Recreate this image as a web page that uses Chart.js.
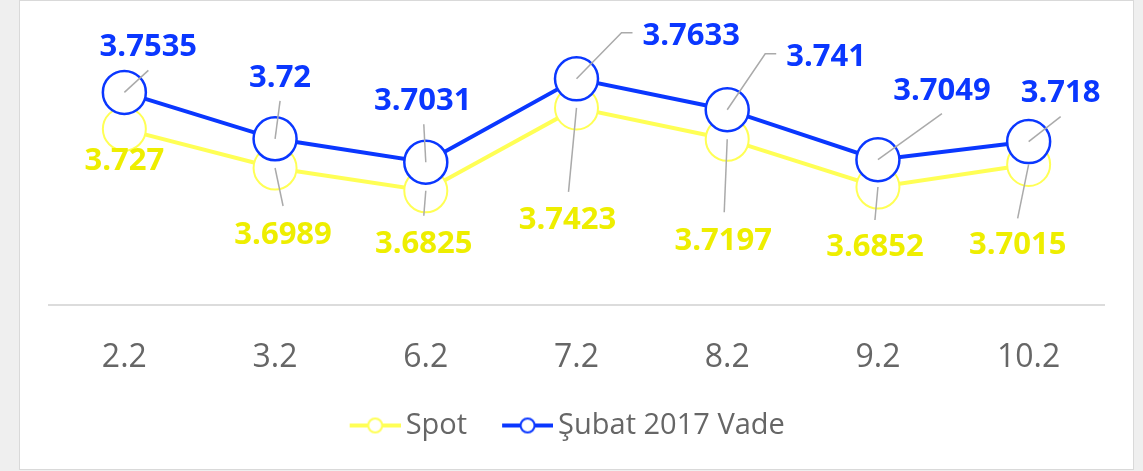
<!DOCTYPE html>
<html>
<head>
<meta charset="utf-8">
<script src="https://cdn.jsdelivr.net/npm/chart.js@4/dist/chart.umd.min.js"></script>
<style>
  html, body { margin: 0; padding: 0; background: #efefef; }
  body { width: 1143px; height: 471px; position: relative; overflow: hidden; }
  .card { position: absolute; left: 19px; top: 0; width: 1115px; height: 470px;
          box-sizing: border-box; background: #fff; border: 1px solid #d9d9d9; }
  #chart { position: absolute; left: 0; top: 0; }
</style>
</head>
<body>
<div class="card"></div>
<canvas id="chart" width="1143" height="471"></canvas>
<script>
// Dates on the x axis
const categories = ['2.2', '3.2', '6.2', '7.2', '8.2', '9.2', '10.2'];

// Series values
const spotValues = [3.727, 3.6989, 3.6825, 3.7423, 3.7197, 3.6852, 3.7015];
const vadeValues = [3.7535, 3.72, 3.7031, 3.7633, 3.741, 3.7049, 3.718];
const seriesNames = ['Spot', 'Şubat 2017 Vade'];

const blue = '#0a37ff';
const yellowLine = '#ffff55';
const yellowText = '#eeee00';

// Where each value label sits relative to its point (leader end lx/ly, optional elbow ex, text tx/ty)
const vadeLabelPos = [
    { lx: 24, ly: -22, tx: 24, ty: -45, align: 'center' },
    { lx: 5, ly: -38, tx: 5, ty: -61, align: 'center' },
    { lx: -2, ly: -38, tx: -3, ty: -61, align: 'center' },
    { lx: 45, ly: -46, ex: 56, tx: 66, ty: -43, align: 'left' },
    { lx: 38, ly: -56, ex: 49, tx: 59, ty: -53, align: 'left' },
    { lx: 64, ly: -46, tx: 64, ty: -69, align: 'center' },
    { lx: 32, ly: -25, tx: 32, ty: -48, align: 'center' }
];
const spotLabelPos = [
    { lx: null, tx: 0, ty: 32, align: 'center' },
    { lx: 8, ly: 38, tx: 8, ty: 67, align: 'center' },
    { lx: -2, ly: 25, tx: -2, ty: 53, align: 'center' },
    { lx: -8, ly: 84, tx: -9, ty: 112, align: 'center' },
    { lx: -3, ly: 73, tx: -4, ty: 102, align: 'center' },
    { lx: -3, ly: 33, tx: -3, ty: 60, align: 'center' },
    { lx: -11, ly: 54, tx: -11, ty: 81, align: 'center' }
];

// Legend icon: a short line with a hollow circle on it, drawn at the right end of the image
function legendIcon(color) {
    const c = document.createElement('canvas');
    c.width = 62; c.height = 20;
    const g = c.getContext('2d');
    g.strokeStyle = color;
    g.lineWidth = 4;
    g.beginPath(); g.moveTo(11, 10); g.lineTo(62, 10); g.stroke();
    g.beginPath(); g.arc(36.5, 10, 7, 0, Math.PI * 2);
    g.fillStyle = '#fff'; g.fill();
    g.lineWidth = 2; g.stroke();
    return c;
}
const legendIcons = [legendIcon(blue), legendIcon(yellowLine)];

const valueLabels = {
    id: 'valueLabels',
    afterLayout(chart) {
        // nudge the legend a bit left, like the original
        chart.legend.left -= 10;
        chart.legend.right -= 10;
    },
    afterDatasetsDraw(chart) {
        const ctx = chart.ctx;
        ctx.save();
        // leader lines first
        chart.data.datasets.forEach((ds, di) => {
            const pos = di === 0 ? vadeLabelPos : spotLabelPos;
            chart.getDatasetMeta(di).data.forEach((pt, i) => {
                const p = pos[i];
                if (p.lx === null) return;
                ctx.strokeStyle = '#aaaaaa';
                ctx.lineWidth = 1.5;
                ctx.beginPath();
                ctx.moveTo(pt.x, pt.y);
                ctx.lineTo(pt.x + p.lx, pt.y + p.ly);
                if (p.ex) ctx.lineTo(pt.x + p.ex, pt.y + p.ly);
                ctx.stroke();
            });
        });
        ctx.font = 'bold 31px "Open Sans"';
        ctx.textBaseline = 'middle';
        chart.data.datasets.forEach((ds, di) => {
            const pos = di === 0 ? vadeLabelPos : spotLabelPos;
            ctx.fillStyle = di === 0 ? blue : yellowText;
            chart.getDatasetMeta(di).data.forEach((pt, i) => {
                const p = pos[i];
                ctx.textAlign = p.align;
                ctx.fillText(String(ds.data[i]), pt.x + p.tx, pt.y + p.ty);
            });
        });
        ctx.restore();
    }
};

new Chart(document.getElementById('chart'), {
    type: 'line',
    data: {
        labels: categories,
        datasets: [
            {
                label: seriesNames[1],
                data: vadeValues,
                borderColor: blue,
                borderWidth: 4,
                pointRadius: 21.5,
                pointBorderWidth: 2.5,
                pointBackgroundColor: '#fff',
                pointBorderColor: blue,
                tension: 0
            },
            {
                label: seriesNames[0],
                data: spotValues,
                borderColor: yellowLine,
                borderWidth: 4,
                pointRadius: 21.5,
                pointBorderWidth: 2,
                pointBackgroundColor: '#fff',
                pointBorderColor: yellowLine,
                tension: 0
            }
        ]
    },
    options: {
        responsive: false,
        animation: false,
        devicePixelRatio: 1,
        layout: { padding: { left: 49, right: 39, top: 28, bottom: 21 } },
        scales: {
            x: {
                offset: true,
                grid: { display: false, drawTicks: false },
                border: { display: true, color: '#dcdcdc', width: 2 },
                ticks: {
                    color: '#666',
                    padding: 37,
                    maxRotation: 0,
                    font: { family: '"Open Sans"', size: 32, lineHeight: 1 }
                },
                afterFit(scale) { scale.height = 72.5; }
            },
            y: {
                display: false,
                min: 3.6,
                max: 3.8
            }
        },
        plugins: {
            tooltip: { enabled: false },
            legend: {
                position: 'bottom',
                reverse: true,
                labels: {
                    color: '#666',
                    usePointStyle: true,
                    pointStyleWidth: 43,
                    padding: 33.5,
                    font: { family: '"Open Sans"', size: 29 },
                    generateLabels(chart) {
                        return Chart.defaults.plugins.legend.labels.generateLabels(chart)
                            .map(l => Object.assign(l, { pointStyle: legendIcons[l.datasetIndex] }));
                    }
                }
            }
        }
    },
    plugins: [valueLabels]
});
</script>
</body>
</html>
